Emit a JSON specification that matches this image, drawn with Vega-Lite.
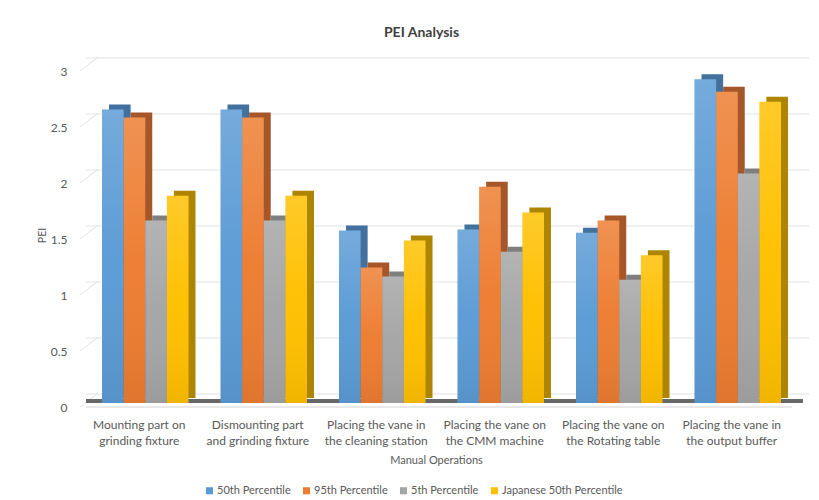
{"$schema":"https://vega.github.io/schema/vega-lite/v6.json","autosize":"none","padding":{"left":86,"top":67,"right":22,"bottom":97},"width":711,"height":336,"background":"white","title":{"text":"PEI Analysis","font":"Lato","fontSize":14,"fontWeight":"bold","color":"#404040","anchor":"middle","offset":15,"dx":-20},"datasets":{"bars":[
{"op":"Mounting part on|grinding fixture","series":"50th Percentile","pei":2.62},{"op":"Mounting part on|grinding fixture","series":"95th Percentile","pei":2.55},{"op":"Mounting part on|grinding fixture","series":"5th Percentile","pei":1.63},{"op":"Mounting part on|grinding fixture","series":"Japanese 50th Percentile","pei":1.85},
{"op":"Dismounting part|and grinding fixture","series":"50th Percentile","pei":2.62},{"op":"Dismounting part|and grinding fixture","series":"95th Percentile","pei":2.55},{"op":"Dismounting part|and grinding fixture","series":"5th Percentile","pei":1.63},{"op":"Dismounting part|and grinding fixture","series":"Japanese 50th Percentile","pei":1.85},
{"op":"Placing the vane in|the cleaning station","series":"50th Percentile","pei":1.54},{"op":"Placing the vane in|the cleaning station","series":"95th Percentile","pei":1.21},{"op":"Placing the vane in|the cleaning station","series":"5th Percentile","pei":1.13},{"op":"Placing the vane in|the cleaning station","series":"Japanese 50th Percentile","pei":1.45},
{"op":"Placing the vane on|the CMM machine","series":"50th Percentile","pei":1.55},{"op":"Placing the vane on|the CMM machine","series":"95th Percentile","pei":1.93},{"op":"Placing the vane on|the CMM machine","series":"5th Percentile","pei":1.35},{"op":"Placing the vane on|the CMM machine","series":"Japanese 50th Percentile","pei":1.7},
{"op":"Placing the vane on|the Rotating table","series":"50th Percentile","pei":1.52},{"op":"Placing the vane on|the Rotating table","series":"95th Percentile","pei":1.63},{"op":"Placing the vane on|the Rotating table","series":"5th Percentile","pei":1.1},{"op":"Placing the vane on|the Rotating table","series":"Japanese 50th Percentile","pei":1.32},
{"op":"Placing the vane in|the output buffer","series":"50th Percentile","pei":2.89},{"op":"Placing the vane in|the output buffer","series":"95th Percentile","pei":2.78},{"op":"Placing the vane in|the output buffer","series":"5th Percentile","pei":2.05},{"op":"Placing the vane in|the output buffer","series":"Japanese 50th Percentile","pei":2.69}],
"levels":[{"level":0},{"level":0.5},{"level":1},{"level":1.5},{"level":2},{"level":2.5},{"level":3}],
"floor":[{"level":0}],
"slants":[{"level":0.5,"depth":0,"wall":0.5},{"level":0.5,"depth":1,"wall":0.625},{"level":1,"depth":0,"wall":1},{"level":1,"depth":1,"wall":1.125},{"level":1.5,"depth":0,"wall":1.5},{"level":1.5,"depth":1,"wall":1.625},{"level":2,"depth":0,"wall":2},{"level":2,"depth":1,"wall":2.125},{"level":2.5,"depth":0,"wall":2.5},{"level":2.5,"depth":1,"wall":2.625},{"level":3,"depth":0,"wall":3},{"level":3,"depth":1,"wall":3.125},{"level":0,"depth":0,"wall":0},{"level":0,"depth":1,"wall":0.125}]},
"config":{"view":{"stroke":null},"font":"Lato"},
"layer":[
{"data":{"name":"levels"},"mark":{"type":"rule","color":"#e2e2e2","strokeWidth":1,"xOffset":12,"yOffset":-9,"clip":false},"encoding":{"y":{"field":"level","type":"quantitative","scale":{"domain":[0,3],"nice":false},"axis":{"values":[0,0.5,1,1.5,2,2.5,3],"format":"~g","grid":false,"domain":false,"ticks":false,"labelFont":"Lato","labelFontSize":12,"labelColor":"#595959","labelPadding":19,"labelOffset":4,"title":"PEI","titleFont":"Lato","titleFontSize":10.5,"titleFontWeight":"normal","titleColor":"#595959","titleX":-39,"titleY":168}}}},
{"data":{"name":"slants"},"mark":{"type":"line","color":"#e2e2e2","strokeWidth":1,"yOffset":4,"clip":false},"encoding":{"x":{"field":"depth","type":"quantitative","axis":null,"scale":{"domain":[0.3333,39.83],"nice":false,"zero":false}},"y":{"field":"wall","type":"quantitative"},"detail":{"field":"level"}}},
{"data":{"name":"floor"},"mark":{"type":"rule","color":"#686868","strokeWidth":4,"xOffset":6,"yOffset":-2,"clip":false},"encoding":{"y":{"field":"level","type":"quantitative"}}},
{"data":{"name":"floor"},"mark":{"type":"rule","color":"#d4d4d4","strokeWidth":1,"xOffset":-5,"yOffset":4,"clip":false},"encoding":{"y":{"field":"level","type":"quantitative"}}},
{"data":{"name":"bars"},"transform":[{"calculate":"datum.series","as":"face"}],"mark":{"type":"bar","yOffset":-5,"clip":false},"encoding":{"x":{"field":"op","type":"nominal","sort":null,"axis":null,"scale":{"paddingInner":0.27,"paddingOuter":0.135,"range":[7,718]}},"xOffset":{"field":"series","sort":null,"scale":{"domain":["50th Percentile","95th Percentile","5th Percentile","Japanese 50th Percentile"]}},"y":{"field":"pei","type":"quantitative"},"fill":{"field":"face","legend":null,"scale":{"domain":["50th Percentile","95th Percentile","5th Percentile","Japanese 50th Percentile"],"range":["#41719c","#a5572a","#7f7f7f","#ad8500"]}}}},
{"data":{"name":"bars"},"mark":{"type":"bar"},"encoding":{"x":{"field":"op","type":"nominal","sort":null,"scale":{"paddingInner":0.27,"paddingOuter":0.135},"axis":{"labelAngle":0,"labelExpr":"split(datum.label,'|')","domain":false,"ticks":false,"labelFont":"Lato","labelFontSize":12,"labelColor":"#595959","labelLineHeight":16,"labelPadding":16,"labelOffset":-6,"labelLimit":200,"title":"Manual Operations","titleFont":"Lato","titleFontSize":11,"titleFontWeight":"normal","titleColor":"#595959","titleX":350,"titleY":51}},"xOffset":{"field":"series","sort":null,"scale":{"domain":["50th Percentile","95th Percentile","5th Percentile","Japanese 50th Percentile"]}},"y":{"field":"pei","type":"quantitative"},"color":{"field":"series","scale":{"domain":["50th Percentile","95th Percentile","5th Percentile","Japanese 50th Percentile"],"range":["#5b9bd5","#ed7d31","#a5a5a5","#ffc000"]},"legend":{"title":null,"orient":"none","legendX":118,"legendY":418,"direction":"horizontal","columns":4,"symbolType":"square","symbolSize":50,"labelFont":"Lato","labelFontSize":11,"labelColor":"#595959","labelOffset":2,"columnPadding":10,"symbolStrokeWidth":0}}}},
{"data":{"name":"bars"},"mark":{"type":"bar","color":{"gradient":"linear","x1":0,"y1":0,"x2":0,"y2":1,"stops":[{"offset":0,"color":"rgba(255,255,255,0.16)"},{"offset":0.5,"color":"rgba(255,255,255,0.02)"},{"offset":1,"color":"rgba(0,0,0,0.06)"}]}},"encoding":{"x":{"field":"op","type":"nominal","sort":null,"axis":null,"scale":{"paddingInner":0.27,"paddingOuter":0.135}},"xOffset":{"field":"series","sort":null,"scale":{"domain":["50th Percentile","95th Percentile","5th Percentile","Japanese 50th Percentile"]}},"y":{"field":"pei","type":"quantitative"}}}
],"resolve":{"scale":{"x":"independent"},"legend":{"fill":"independent","color":"independent"}}}
